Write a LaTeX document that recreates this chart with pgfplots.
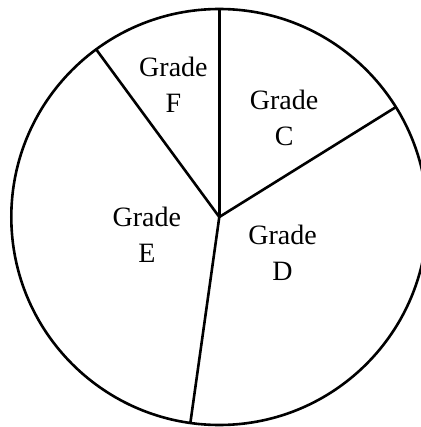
\documentclass[border=0pt]{standalone}
\usepackage{pgfplots}
\pgfplotsset{compat=1.18}
\usepgfplotslibrary{polar}
\usepackage{fontspec}
\setmainfont{Liberation Serif}
\begin{document}
\begin{tikzpicture}
\begin{polaraxis}[
    width=416bp, height=416bp, scale only axis,
    xmin=0, xmax=360, ymin=0, ymax=1,
    xtick=\empty, ytick=\empty,
    grid=none,
    axis line style={line width=2.6bp, black},
    y axis line style={draw=none},
    clip=false,
]
% slice borders (angle in degrees, radius)
\addplot[line width=2.6bp, line join=round, mark=none] coordinates {(31.9,1) (31.9,0)};
\addplot[line width=2.6bp, mark=none] coordinates {(90,0) (90,1)};
\addplot[line width=2.6bp, mark=none] coordinates {(126.3,0) (126.3,1)};
\addplot[line width=2.6bp, mark=none] coordinates {(262,0) (262,1)};
\coordinate (c) at (axis cs:0,0);
\tikzset{lbl/.style={align=center, font=\fontsize{28bp}{36bp}\selectfont, inner sep=0pt}}
\node[lbl] at (axis cs:56.8,0.569) {Grade\\C};
\node[lbl] at (axis cs:330.4,0.350) {Grade\\D};
\node[lbl] at (axis cs:194,0.359) {Grade\\E};
\node[lbl] at (axis cs:109.1,0.674) {Grade\\F};
\end{polaraxis}
\pgfresetboundingbox
\path[use as bounding box] ([shift={(-219.3bp,-210bp)}]c) rectangle ([shift={(201.7bp,217bp)}]c);
\end{tikzpicture}
\end{document}
